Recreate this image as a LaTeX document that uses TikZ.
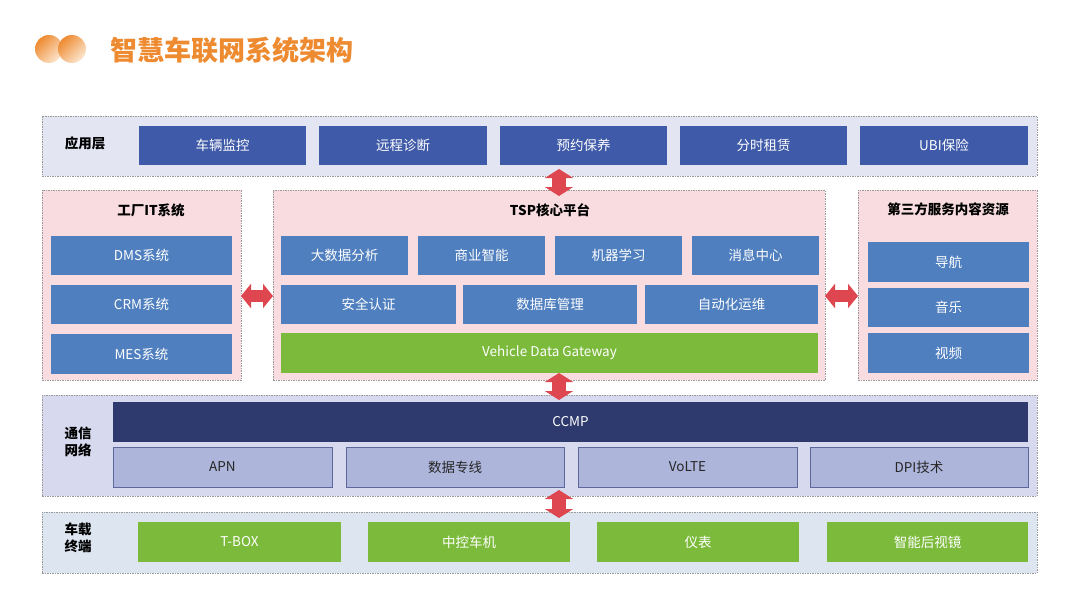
\documentclass[tikz,border=0pt]{standalone}
\usepackage{fontspec}
\setmainfont{Noto Sans CJK SC}
\usetikzlibrary{arrows.meta}
\definecolor{titleorange}{HTML}{EE8A30}
\definecolor{circpale}{HTML}{FCE6CF}
\definecolor{appbg}{HTML}{E3E5F3}
\definecolor{appblue}{HTML}{3F5AA8}
\definecolor{pinkbg}{HTML}{F8DCDF}
\definecolor{midblue}{HTML}{4F7FBF}
\definecolor{vgreen}{HTML}{7CBA3B}
\definecolor{netbg}{HTML}{D7DAEE}
\definecolor{navy}{HTML}{2E3A6E}
\definecolor{netfill}{HTML}{ADB5DB}
\definecolor{netborder}{HTML}{5D679C}
\definecolor{termbg}{HTML}{DCE5F0}
\definecolor{arrowred}{HTML}{DF4750}
\definecolor{dashgray}{HTML}{9A9A9A}
\newcommand\bx[7]{\node[#6, minimum width={(#4-#2)*1pt}, minimum height={(#5-#3)*1pt}] (#1) at ({(#2+#4)/2},{(#3+#5)/2}) {#7};}
\begin{document}
\begin{tikzpicture}[x=1pt,y=-1pt,
  panel/.style={draw=dashgray, dash pattern=on 1.5pt off 1pt, line width=0.7pt, inner sep=0pt, outer sep=0pt},
  box/.style={inner sep=0pt, outer sep=0pt, font=\fontsize{13.5}{16}\selectfont, text=white},
  appbox/.style={box, fill=appblue},
  bluebox/.style={box, fill=midblue},
  greenbox/.style={box, fill=vgreen},
  ccmpbox/.style={box, fill=navy},
  netbox/.style={box, fill=netfill, draw=netborder, line width=0.8pt, text=black!85},
  lbl/.style={font=\bfseries\fontsize{13.5}{17}\selectfont, align=center, text=black},
  varrow/.style={draw=arrowred, line width=14pt, {Triangle[width=28pt,length=9pt]}-{Triangle[width=28pt,length=9pt]}},
  harrow/.style={draw=arrowred, line width=12pt, {Triangle[width=24pt,length=10pt]}-{Triangle[width=24pt,length=10pt]}}
]
\useasboundingbox[fill=white] (0,0) rectangle (1080,608);
% title
\shade[left color=titleorange, right color=circpale, shading angle=45] (49,49) circle (14);
\shade[left color=titleorange, right color=circpale, shading angle=45] (72,49) circle (14);
\node[anchor=west, inner sep=0pt, text=titleorange, font=\bfseries\fontsize{27}{31}\selectfont] (title) at (110,50) {智慧车联网系统架构};
% panels
\bx{app}{42}{116}{1037}{176}{panel, fill=appbg}{}
\bx{it}{42}{190}{241}{380}{panel, fill=pinkbg}{}
\bx{tsp}{273}{190}{825}{380}{panel, fill=pinkbg}{}
\bx{third}{858}{190}{1037}{380}{panel, fill=pinkbg}{}
\bx{net}{42}{395}{1037}{496}{panel, fill=netbg}{}
\bx{term}{42}{512}{1037}{573}{panel, fill=termbg}{}
% labels
\node[lbl] (applbl) at (85,143) {应用层};
\node[lbl] (itlbl) at (151,210) {工厂IT系统};
\node[lbl] (tsplbl) at (550,210) {TSP核心平台};
\node[lbl] (thirdlbl) at (948,209) {第三方服务内容资源};
\node[lbl] (netlbl) at (78,442) {通信\\网络};
\node[lbl] (termlbl) at (78,538) {车载\\终端};
% application layer
\bx{a1}{139}{126}{306}{165}{appbox}{车辆监控}
\bx{a2}{319}{126}{487}{165}{appbox}{远程诊断}
\bx{a3}{500}{126}{667}{165}{appbox}{预约保养}
\bx{a4}{680}{126}{847}{165}{appbox}{分时租赁}
\bx{a5}{860}{126}{1028}{165}{appbox}{UBI保险}
% factory IT
\bx{d1}{51}{236}{232}{275}{bluebox}{DMS系统}
\bx{d2}{51}{285}{232}{324}{bluebox}{CRM系统}
\bx{d3}{51}{334}{232}{374}{bluebox}{MES系统}
% TSP
\bx{t1}{281}{236}{408}{275}{bluebox}{大数据分析}
\bx{t2}{418}{236}{545}{275}{bluebox}{商业智能}
\bx{t3}{555}{236}{682}{275}{bluebox}{机器学习}
\bx{t4}{692}{236}{819}{275}{bluebox}{消息中心}
\bx{t5}{281}{285}{456}{324}{bluebox}{安全认证}
\bx{t6}{463}{285}{637}{324}{bluebox}{数据库管理}
\bx{t7}{645}{285}{818}{324}{bluebox}{自动化运维}
\bx{vdg}{281}{333}{818}{373}{greenbox}{Vehicle Data Gateway}
% third party
\bx{s1}{868}{242}{1029}{282}{bluebox}{导航}
\bx{s2}{868}{288}{1029}{327}{bluebox}{音乐}
\bx{s3}{868}{333}{1029}{373}{bluebox}{视频}
% network
\bx{ccmp}{113}{402}{1028}{442}{ccmpbox}{CCMP}
\bx{n1}{113}{447}{332}{487}{netbox}{APN}
\bx{n2}{346}{447}{564}{487}{netbox}{数据专线}
\bx{n3}{578}{447}{797}{487}{netbox}{VoLTE}
\bx{n4}{810}{447}{1028}{487}{netbox}{DPI技术}
% terminal
\bx{v1}{138}{522}{341}{562}{greenbox}{T-BOX}
\bx{v2}{368}{522}{570}{562}{greenbox}{中控车机}
\bx{v3}{597}{522}{799}{562}{greenbox}{仪表}
\bx{v4}{827}{522}{1028}{562}{greenbox}{智能后视镜}
% arrows
\coordinate (v1a) at (559,169);
\coordinate (v1b) at (559,196);
\coordinate (v2a) at (559,373);
\coordinate (v2b) at (559,400);
\coordinate (v3a) at (559,490);
\coordinate (v3b) at (559,518);
\draw[varrow] (v1a) -- (v1b);
\draw[varrow] (v2a) -- (v2b);
\draw[varrow] (v3a) -- (v3b);
\draw[harrow] ([yshift=-11pt]it.east) -- ([yshift=-11pt]tsp.west);
\draw[harrow] ([yshift=-11pt]tsp.east) -- ([yshift=-11pt]third.west);
\end{tikzpicture}
\end{document}
